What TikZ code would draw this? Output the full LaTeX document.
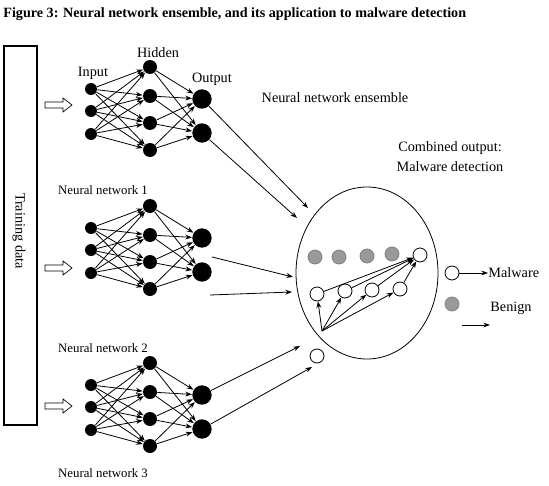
\documentclass[tikz,border=0pt]{standalone}
\usepackage{fontspec}
\setmainfont{Liberation Serif}
\usetikzlibrary{arrows.meta}

\begin{document}
\begin{tikzpicture}[x=0.75pt, y=-0.75pt, line width=0.6pt,
  >={Stealth[length=5pt,width=3.6pt]},
  inp/.style={circle, fill=black, inner sep=0pt, minimum size=9pt},
  hid/.style={circle, fill=black, inner sep=0pt, minimum size=10.5pt},
  outp/.style={circle, fill=black, inner sep=0pt, minimum size=14.5pt},
  wnode/.style={circle, draw, fill=white, inner sep=0pt, minimum size=10.5pt},
  gnode/.style={circle, draw=black!50, fill=black!40, inner sep=0pt, minimum size=10.5pt},
  lbl/.style={font=\fontsize{9.6}{11}\selectfont, inner sep=0pt},
  lblb/.style={font=\fontsize{10.7}{12}\selectfont, inner sep=0pt}]
  \useasboundingbox (0,0) rectangle (549,485);
  % Titel
  \node[anchor=west, inner sep=0pt, font=\fontsize{10.6}{12}\selectfont\bfseries] (title) at (3,14)
    {Figure 3: Neural network ensemble, and its application to malware detection};
  % Trainingsdaten
  \draw[line width=1.5pt] (4,46) rectangle (37,425);
  \node[lblb, rotate=-90] (train) at (19,231) {Training data};
  % Hohlpfeile
  \foreach \y in {105,268,406}
    \draw[line width=0.5pt] (45,\y-3) -- (63,\y-3) -- (63,\y-7) -- (72,\y)
      -- (63,\y+7) -- (63,\y+3) -- (45,\y+3) -- cycle;
  % drei Netze
  \foreach \n/\h in {1/67,2/206,3/363} {
    \node[inp] (in-\n-1) at (91,\h+22) {};
    \node[inp] (in-\n-2) at (91,\h+44) {};
    \node[inp] (in-\n-3) at (91,\h+67) {};
    \node[hid] (hid-\n-1) at (150,\h) {};
    \node[hid] (hid-\n-2) at (150,\h+29) {};
    \node[hid] (hid-\n-3) at (150,\h+56) {};
    \node[hid] (hid-\n-4) at (150,\h+83) {};
    \node[outp] (out-\n-1) at (202,\h+32) {};
    \node[outp] (out-\n-2) at (202,\h+66) {};
    \foreach \i in {1,2,3}
      \foreach \j in {1,...,4}
        \draw[->] (in-\n-\i) -- (hid-\n-\j);
    \foreach \j in {1,...,4}
      \foreach \k in {1,2}
        \draw[->] (hid-\n-\j) -- (out-\n-\k);
  }
  \node[lblb] (l-in) at (93,73) {Input};
  \node[lblb] (l-hid) at (158,53) {Hidden};
  \node[lblb] (l-out) at (212,79) {Output};
  \node[lbl] (l-nn1) at (103,190) {Neural network 1};
  \node[lbl] (l-nn2) at (103,348) {Neural network 2};
  \node[lbl] (l-nn3) at (103,473) {Neural network 3};
  \node[lblb] (l-ens) at (335,98) {Neural network ensemble};
  \node[lblb, align=center] (l-comb) at (450,157) {Combined output:\\[3pt]Malware detection};
  % Ensemble
  \draw (367,273) ellipse [x radius=71, y radius=86];
  \node[gnode] (g1) at (315,257) {};
  \node[gnode] (g2) at (339,257) {};
  \node[gnode] (g3) at (367,256) {};
  \node[gnode] (g4) at (392,254) {};
  \node[wnode] (top) at (420,255) {};
  \node[wnode] (w1) at (317,294) {};
  \node[wnode] (w2) at (345,291) {};
  \node[wnode] (w3) at (372,290) {};
  \node[wnode] (w4) at (400,289) {};
  \coordinate (src) at (322,331);
  \foreach \k in {1,...,4} {
    \draw[->] (src) -- (w\k);
    \draw[->] (w\k) -- (top);
  }
  \node[wnode] (w0) at (317,356) {};
  % Verbindungen zum Ensemble
  \coordinate (e1) at (308,208);
  \coordinate (e2) at (297,218);
  \coordinate (s3) at (212,257);
  \coordinate (e3) at (293,277);
  \coordinate (s4) at (210,295);
  \coordinate (e4) at (292,292);
  \coordinate (e5) at (300,346);
  \coordinate (e6) at (312,367);
  \draw[->] (out-1-1) -- (e1);
  \draw[->] (out-1-2) -- (e2);
  \draw[->] (s3) -- (e3);
  \draw[->] (s4) -- (e4);
  \draw[->] (out-3-1) -- (e5);
  \draw[->] (out-3-2) -- (e6);
  % Legende
  \node[wnode] (lg-w) at (452,273) {};
  \node[lblb, anchor=west] (l-mal) at (488,273) {Malware};
  \draw[->] (lg-w) -- (l-mal);
  \node[gnode] (lg-g) at (452,304) {};
  \node[lblb, anchor=west] (l-ben) at (490,308) {Benign};
  \coordinate (a1) at (462,325);
  \coordinate (a2) at (490,325);
  \draw[->] (a1) -- (a2);
\end{tikzpicture}
\end{document}
